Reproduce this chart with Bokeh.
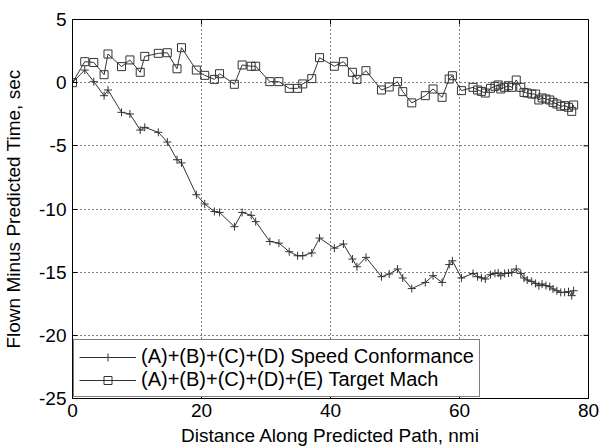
import math
from bokeh.plotting import figure
from bokeh.models import Range1d, FixedTicker, Legend, LegendItem
from bokeh.embed import file_html
from bokeh.resources import INLINE

# Data
distance_nmi = [0, 1.9, 3.3, 4.9, 5.5, 7.6, 8.9, 10.5, 11.2, 13.3, 14.7, 16.2, 16.9, 19.2, 20.5,
                22.0, 22.8, 25.1, 26.3, 27.7, 28.4, 30.6, 32.0, 33.6, 34.9, 35.7, 37.1, 38.3,
                40.6, 42.0, 43.4, 44.1, 45.5, 47.9, 49.1, 50.4, 51.2, 52.6, 54.7, 55.9, 57.3,
                58.4, 58.9, 60.3, 62.1, 62.8, 63.4, 64.0, 64.8, 65.5, 66.0, 66.4, 67.0, 67.6,
                68.1, 68.8, 69.5, 70.0, 70.5, 71.2, 71.8, 72.3, 72.8, 73.4, 74.0, 74.5, 75.1,
                75.7, 76.3, 76.9, 77.4, 77.7]

speed_conformance = [0.02, 1.0, 0.08, -1.03, -0.58, -2.35, -2.48, -3.75, -3.54, -3.93, -4.7,
                     -6.1, -6.35, -8.87, -9.6, -10.2, -10.27, -11.4, -10.27, -10.5, -11.0,
                     -12.57, -12.7, -13.38, -13.7, -13.7, -13.48, -12.3, -13.1, -12.77, -13.96,
                     -14.57, -13.83, -15.36, -15.15, -14.75, -15.46, -16.3, -15.81, -15.28,
                     -15.81, -14.4, -14.1, -15.46, -15.1, -15.36, -15.45, -15.54, -15.2, -15.1,
                     -15.07, -15.28, -15.1, -15.07, -15.02, -14.75, -15.1, -15.46, -15.62,
                     -15.73, -15.89, -16.07, -15.94, -16.07, -16.15, -16.33, -16.47, -16.6,
                     -16.6, -16.55, -16.86, -16.47]

target_mach = [0.0, 1.66, 1.6, 0.63, 2.27, 1.27, 1.8, 0.82, 2.08, 2.32, 2.37, 1.1, 2.77, 1.0,
               0.58, 0.26, 0.71, -0.13, 1.4, 1.3, 1.3, 0.08, 0.08, -0.45, -0.45, -0.1, 0.32,
               1.98, 1.3, 1.66, 0.82, 0.26, 0.95, -0.58, -0.34, 0.08, -0.71, -1.6, -1.03, -0.5,
               -1.16, 0.29, 0.55, -0.63, -0.37, -0.58, -0.69, -0.82, -0.45, -0.29, -0.18, -0.5,
               -0.37, -0.24, -0.37, 0.21, -0.37, -0.77, -0.82, -0.9, -0.9, -1.37, -1.21, -1.29,
               -1.37, -1.56, -1.69, -1.87, -1.82, -1.95, -2.27, -1.77]

x_ticks = [0, 20, 40, 60, 80]
y_ticks = [-25, -20, -15, -10, -5, 0, 5]
x_min, x_max = 0, 80
y_min, y_max = -25, 5
label_speed = "(A)+(B)+(C)+(D) Speed Conformance"
label_mach = "(A)+(B)+(C)+(D)+(E) Target Mach"
x_title = "Distance Along Predicted Path, nmi"
y_title = "Flown Minus Predicted Time, sec"

FONT = "Liberation Sans"
INK = "#333333"

p = figure(width=599, height=448, frame_width=516, frame_height=379,
           x_range=Range1d(x_min, x_max), y_range=Range1d(y_min, y_max),
           output_backend="svg", toolbar_location=None,
           min_border_left=72, min_border_right=11, min_border_top=19, min_border_bottom=50)
p.background_fill_color = "white"
p.border_fill_color = "white"
p.outline_line_color = "black"
p.outline_line_width = 1

for ax, ticks in ((p.xaxis[0], x_ticks), (p.yaxis[0], y_ticks)):
    ax.ticker = FixedTicker(ticks=ticks)
    ax.major_label_overrides = {t: str(t) for t in ticks}
    ax.major_tick_in = 5
    ax.major_tick_out = 0
    ax.minor_tick_line_color = None
    ax.axis_line_color = "black"
    ax.major_tick_line_color = "black"
    ax.major_label_text_font = FONT
    ax.major_label_text_font_size = "19px"
    ax.major_label_text_color = "black"
    ax.axis_label_text_font = FONT
    ax.axis_label_text_font_size = "19px"
    ax.axis_label_text_font_style = "normal"
    ax.axis_label_text_color = "black"

p.xaxis[0].axis_label = x_title
p.yaxis[0].axis_label = y_title
p.xaxis[0].major_label_standoff = 5
p.xaxis[0].axis_label_standoff = 5
p.yaxis[0].major_label_standoff = 6
p.yaxis[0].axis_label_standoff = 12

p.xgrid.ticker = FixedTicker(ticks=x_ticks)
p.ygrid.ticker = FixedTicker(ticks=y_ticks)
for g in (p.xgrid[0], p.ygrid[0]):
    g.grid_line_color = "black"
    g.grid_line_dash = "1 3"
    g.grid_line_width = 1

# mirrored inward ticks on top and right edges (half of each dash is clipped by the frame)
p.scatter(x_ticks, [y_max] * len(x_ticks), marker="dash", angle=math.pi / 2, size=10,
          line_color="black", line_width=1)
p.scatter([x_max] * len(y_ticks), y_ticks, marker="dash", size=10,
          line_color="black", line_width=1)

l1 = p.line(distance_nmi, speed_conformance, line_color=INK, line_width=1)
m1 = p.scatter(distance_nmi, speed_conformance, marker="cross", size=8,
               line_color=INK, line_width=1)
l2 = p.line(distance_nmi, target_mach, line_color=INK, line_width=1)
m2 = p.scatter(distance_nmi, target_mach, marker="square", size=8,
               line_color=INK, fill_color=None, line_width=1)

legend = Legend(items=[LegendItem(label=label_speed, renderers=[l1, m1]),
                       LegendItem(label=label_mach, renderers=[l2, m2])],
                location="bottom_left")
legend.margin = 1
legend.padding = 5
legend.spacing = 0
legend.glyph_width = 57
legend.glyph_height = 20
legend.label_height = 20
legend.label_standoff = 5
legend.label_text_font = FONT
legend.label_text_font_size = "20px"
legend.label_text_color = "black"
legend.border_line_color = "black"
legend.border_line_width = 1
legend.background_fill_color = "white"
legend.background_fill_alpha = 1
p.add_layout(legend)

open("out.html", "w").write(file_html(p, INLINE))
